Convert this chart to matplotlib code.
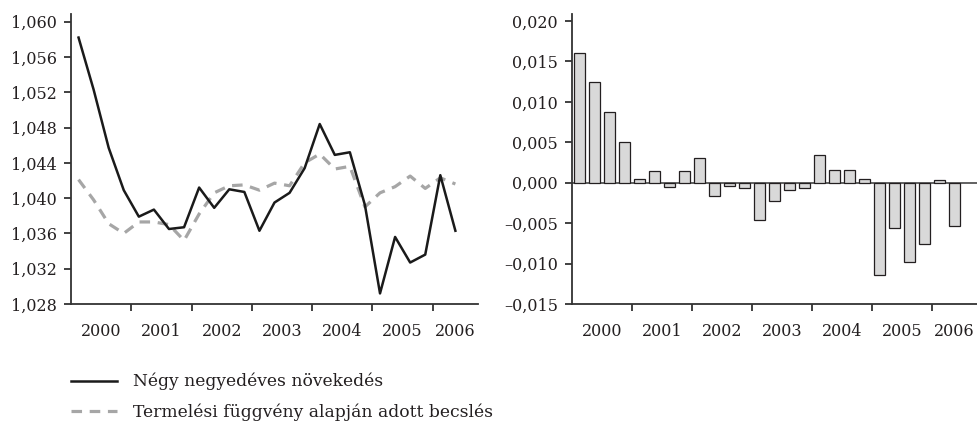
import numpy as np
import matplotlib.pyplot as plt
from matplotlib.lines import Line2D
from matplotlib.ticker import FixedLocator, FuncFormatter

# quarterly data, 2000 Q1 - 2006 Q2
years = ['2000', '2001', '2002', '2003', '2004', '2005', '2006']
growth = [1.0582, 1.0523, 1.0457, 1.0409, 1.0379, 1.0387, 1.0365, 1.0367,
          1.0412, 1.0389, 1.0410, 1.0407, 1.0363, 1.0395, 1.0406, 1.0434,
          1.0484, 1.0449, 1.0452, 1.0392, 1.0292, 1.0356, 1.0327, 1.0336,
          1.0426, 1.0363]
estimate = [1.0421, 1.0398, 1.0371, 1.0360, 1.0373, 1.0373, 1.0370, 1.0352,
            1.0382, 1.0406, 1.0414, 1.0415, 1.0409, 1.0417, 1.0414, 1.0440,
            1.0450, 1.0433, 1.0436, 1.0390, 1.0406, 1.0413, 1.0425, 1.0411,
            1.0423, 1.0416]
gap = [0.0161, 0.0125, 0.0087, 0.0050, 0.0005, 0.0014, -0.0005, 0.0015,
       0.0030, -0.0017, -0.0004, -0.0007, -0.0046, -0.0022, -0.0009, -0.0007,
       0.0034, 0.0016, 0.0016, 0.0004, -0.0114, -0.0056, -0.0098, -0.0076,
       0.0003, -0.0053]
labels = ['Négy negyedéves növekedés',
          'Termelési függvény alapján adott becslés']

INK = '#231f20'
FS = 11.5
plt.rcParams['font.family'] = ['DejaVu Serif', 'Liberation Serif']
plt.rcParams['font.size'] = FS
plt.rcParams['text.color'] = INK

fig = plt.figure(figsize=(9.78, 4.22), dpi=100)
axL = fig.add_axes([71 / 978, 118 / 422, 407 / 978, 290 / 422])
axR = fig.add_axes([572 / 978, 118 / 422, 405 / 978, 290 / 422])

x = np.arange(len(growth)) + 0.5
nq = 27  # axis runs to 2006 Q3


def comma(fmt):
    return FuncFormatter(lambda v, _: (fmt % v).replace('.', ',').replace('-', '\u2013'))


def style(ax):
    for s in ['top', 'right']:
        ax.spines[s].set_visible(False)
    for s in ['left', 'bottom']:
        ax.spines[s].set_color('#333333')
        ax.spines[s].set_linewidth(1.3)
    ax.set_xlim(0, nq)
    ax.xaxis.set_major_locator(FixedLocator(range(4, nq, 4)))
    ax.xaxis.set_major_formatter(FuncFormatter(lambda v, _: ''))
    centers = [2 + 4 * i for i in range(len(years) - 1)] + [(24 + nq) / 2]
    ax.xaxis.set_minor_locator(FixedLocator(centers))
    ax.set_xticklabels(years, minor=True)
    ax.tick_params(axis='x', which='major', direction='out', length=5, width=1.3, color='#333333')
    ax.tick_params(axis='x', which='minor', length=0, pad=14, labelsize=FS, labelcolor=INK)
    ax.tick_params(axis='y', direction='out', length=5, width=1.3, color='#333333',
                   pad=5, labelsize=FS, labelcolor=INK)


# left: growth vs. production-function estimate
axL.plot(x, estimate, color='#a6a6a6', lw=2.3, dashes=(3.3, 2.4), zorder=2)
axL.plot(x, growth, color='#1a1a1a', lw=1.8, zorder=3)
axL.set_ylim(1.028, 1.06087)
axL.set_yticks(np.arange(1.028, 1.0605, 0.004))
axL.yaxis.set_major_formatter(comma('%.3f'))
style(axL)

# right: difference
axR.axhline(0, color='#555555', lw=1.3, zorder=1)
axR.bar(x, gap, width=0.67, color='#d9d9d9', edgecolor=INK, linewidth=0.9, zorder=2)
axR.set_ylim(-0.015, 0.02087)
axR.set_yticks(np.arange(-0.015, 0.0205, 0.005))
axR.yaxis.set_major_formatter(comma('%.3f'))
style(axR)

handles = [Line2D([], [], color='#1a1a1a', lw=1.8),
           Line2D([], [], color='#a6a6a6', lw=2.3, dashes=(3.3, 2.4))]
fig.legend(handles, labels, loc='upper left', bbox_to_anchor=(71 / 978, 1 - 373 / 422),
           frameon=False, borderpad=0, borderaxespad=0, handlelength=2.7,
           handletextpad=0.94, labelspacing=0.78, fontsize=12.3)

fig.savefig('out.png', dpi=100)
